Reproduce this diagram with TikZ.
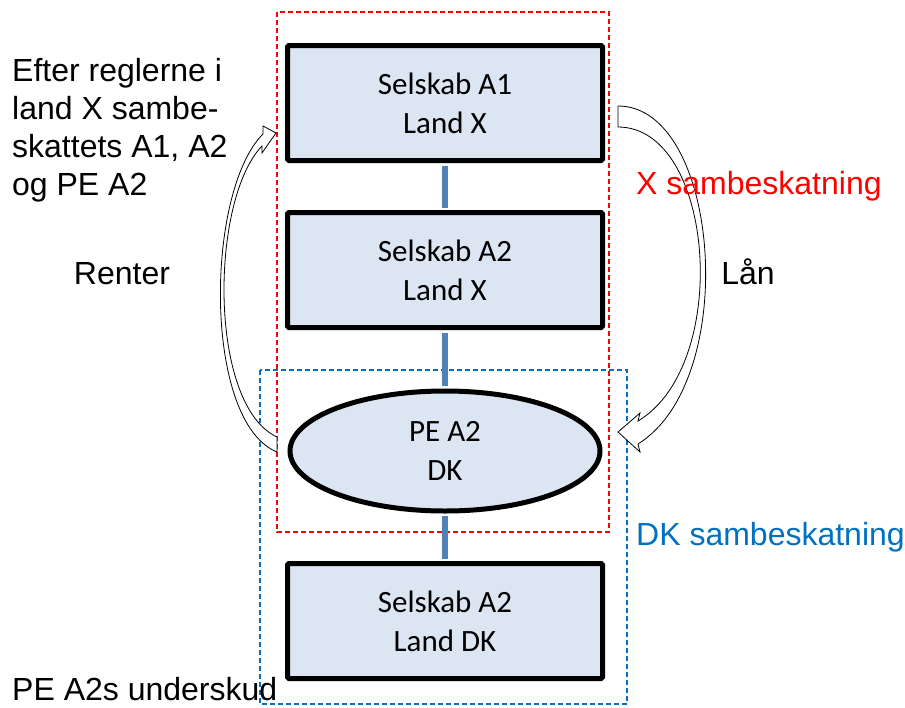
\documentclass[tikz,border=0pt]{standalone}
\usepackage{fontspec}
\setmainfont{Liberation Sans}
\newfontfamily\boxfont{Carlito}
\usetikzlibrary{positioning, shapes.geometric}

\definecolor{boxfill}{HTML}{DCE6F2}
\definecolor{linkblue}{HTML}{4F81BD}
\definecolor{dkblue}{HTML}{0070C0}

\begin{document}
\begin{tikzpicture}[
    x=1pt, y=-1pt,
    on grid,
    company/.style={draw, line width=5pt, fill=boxfill, rounded corners=1.5pt,
        minimum width=315pt, minimum height=115pt, align=center,
        font=\boxfont\fontsize{31}{39}\selectfont},
    pe/.style={company, ellipse, rounded corners=0pt, minimum width=310pt, minimum height=120pt},
    link/.style={draw=linkblue, line width=6pt, shorten <=2.5pt, shorten >=2.5pt},
    zone/.style={line width=1.8pt, dash pattern=on 5pt off 3pt},
    txt/.style={inner sep=0pt, align=left, font=\fontsize{32}{38}\selectfont},
    bendarrow/.style={draw=black, line width=0.8pt, fill=white},
]
    \useasboundingbox (0,0) rectangle (905,707);

    % sambeskatning groups
    \draw[zone, red]    (277,12)  rectangle (609,532);
    \draw[zone, dkblue] (260,370) rectangle (627,704);

    \node[company]                    (A1) at (445,103) {Selskab A1\\Land X};
    \node[company, below=167pt of A1] (A2)              {Selskab A2\\Land X};
    \node[pe,      below=181pt of A2] (PE)              {PE A2\\DK};
    \node[company, below=170pt of PE] (DK)              {Selskab A2\\Land DK};

    \path[link]
        (A1) edge (A2)
        (A2) edge (PE)
        (PE) edge (DK)
    ;

    % Renter / Laan
    \draw[bendarrow] (277,452) .. controls (203,422) and (205,192) .. (263,134)
        -- (263,126) -- (276,133) -- (262,153) -- (262,146)
        .. controls (210,200) and (208,405) .. (277,437) -- cycle;
    \draw[bendarrow] (618,106) .. controls (720,106) and (741,380) .. (638,444)
        -- (640,452) -- (618,432) -- (640,413) -- (638,421)
        .. controls (732,365) and (715,127) .. (618,127) -- cycle;

    \node[txt, anchor=west]      (rule)   at (12,130)  {Efter reglerne i\\land X sambe-\\skattets A1, A2\\og PE A2};
    \node[txt, anchor=base]      (renter) at (122,284) {Renter};
    \node[txt, anchor=base]      (laan)   at (748,284) {Lån};
    \node[txt, anchor=base west, red]    (xsam)  at (636,194) {X sambeskatning};
    \node[txt, anchor=base west, dkblue] (dksam) at (636,545) {DK sambeskatning};
    \node[txt, anchor=base west] (loss)   at (12,700)  {PE A2s underskud};
\end{tikzpicture}
\end{document}
